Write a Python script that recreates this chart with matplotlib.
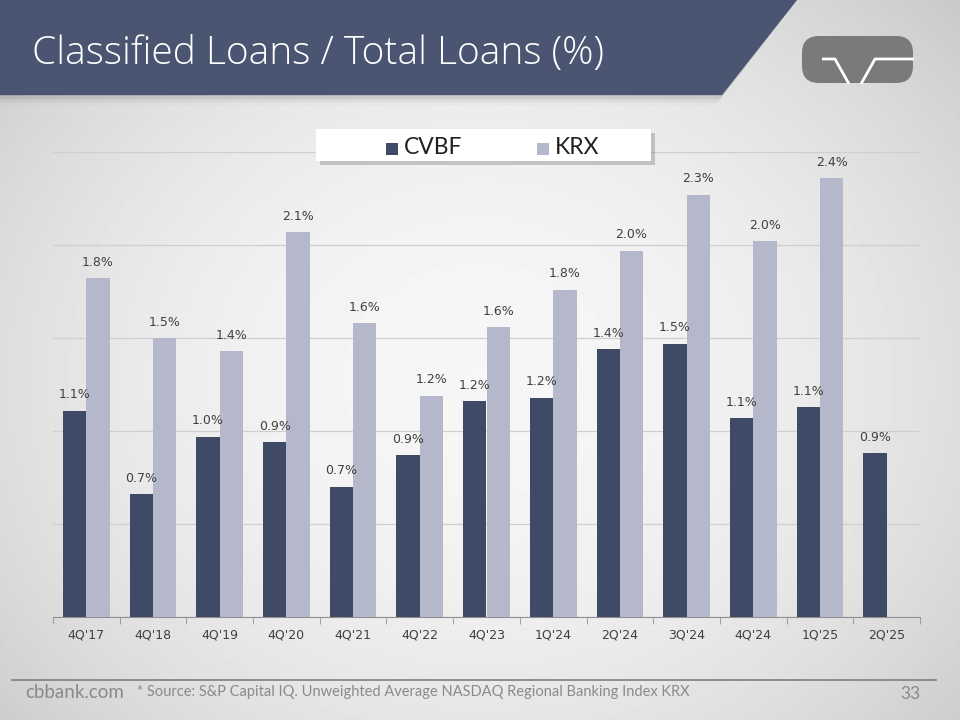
import numpy as np
import matplotlib.pyplot as plt
from matplotlib.patches import Polygon, Rectangle, FancyBboxPatch

# data
quarters = ["4Q'17", "4Q'18", "4Q'19", "4Q'20", "4Q'21", "4Q'22", "4Q'23",
            "1Q'24", "2Q'24", "3Q'24", "4Q'24", "1Q'25", "2Q'25"]
cvbf = [1.11, 0.66, 0.97, 0.94, 0.70, 0.87, 1.16, 1.18, 1.44, 1.47, 1.07, 1.13, 0.88]
krx = [1.82, 1.50, 1.43, 2.07, 1.58, 1.19, 1.56, 1.76, 1.97, 2.27, 2.02, 2.36, np.nan]

dark = '#3f4a66'
light = '#b5b8ca'
header = '#4a5571'
txt = '#404040'

W, H = 960, 720
fig = plt.figure(figsize=(9.6, 7.2), dpi=100)

# background gradient
bg = fig.add_axes([0, 0, 1, 1], zorder=0)
yy, xx = np.mgrid[0:H, 0:W]
r = np.sqrt(((xx - 480) / 560.0) ** 2 + ((yy - 380) / 480.0) ** 2)
shade = 0.965 - 0.13 * np.clip(r, 0, 1.2) ** 2
bg.imshow(shade, cmap='gray', vmin=0, vmax=1, extent=[0, W, H, 0], aspect='auto')
bg.set_xlim(0, W)
bg.set_ylim(H, 0)
bg.axis('off')

# chart
ax = fig.add_axes([53 / W, 103 / H, 867 / W, 465 / H], zorder=1)
ax.patch.set_alpha(0)
x = np.arange(len(quarters))
bw = 0.35
ax.bar(x - bw / 2, cvbf, bw, color=dark, zorder=3)
ax.bar(x + bw / 2, krx, bw, color=light, zorder=3)
for i in range(len(quarters)):
    ax.text(x[i] - bw / 2, cvbf[i] + 0.05, f'{cvbf[i]:.1f}%', ha='center', va='bottom',
            fontsize=9, color=txt, zorder=4)
    if not np.isnan(krx[i]):
        ax.text(x[i] + bw / 2, krx[i] + 0.05, f'{krx[i]:.1f}%', ha='center', va='bottom',
                fontsize=9, color=txt, zorder=4)

ax.set_xlim(-0.5, len(quarters) - 0.5)
ax.set_ylim(0, 2.5)
ax.set_yticks(np.arange(0, 2.51, 0.5))
ax.yaxis.grid(True, color='#cfcfcf', lw=0.9)
ax.set_axisbelow(True)
ax.tick_params(axis='y', left=False, labelleft=False)
ax.set_xticks(x)
ax.set_xticklabels(quarters, fontsize=9, color=txt)
ax.tick_params(axis='x', length=0, pad=8)
ax.set_xticks(np.arange(-0.5, len(quarters), 1), minor=True)
ax.tick_params(axis='x', which='minor', length=5, color='#909090')
for s in ['top', 'right', 'left']:
    ax.spines[s].set_visible(False)
ax.spines['bottom'].set_color('#909090')

# overlay: header, legend, footer
ov = fig.add_axes([0, 0, 1, 1], zorder=2)
ov.patch.set_alpha(0)
ov.set_xlim(0, W)
ov.set_ylim(H, 0)
ov.axis('off')

for k, a in enumerate([0.10, 0.07, 0.04, 0.02]):
    ov.add_patch(Polygon([(0, 0), (797, 0), (722 - 2 * k, 96 + 3 * k), (0, 96 + 3 * k)],
                         closed=True, color='black', alpha=a, lw=0))
ov.add_patch(Polygon([(0, 0), (797, 0), (722, 95), (0, 95)], closed=True, color=header, lw=0))
ov.text(32, 54, 'Classified Loans / Total Loans (%)', color='white', fontsize=28,
        family='Open Sans', weight='light', va='center', ha='left')

# logo
ov.add_patch(FancyBboxPatch((802, 36), 111, 47, boxstyle='round,pad=0,rounding_size=17',
                            color='#7a7a7a', lw=0))
ov.plot([822, 835, 849], [59, 59, 84], color='white', lw=2.0, solid_capstyle='butt')
ov.plot([861, 875, 914], [84, 59, 59], color='white', lw=2.0, solid_capstyle='butt')

# legend box
ov.add_patch(Rectangle((320, 133), 335, 32, color='black', alpha=0.18, lw=0))
ov.add_patch(Rectangle((316, 129), 335, 32, color='white', lw=0))
ov.add_patch(Rectangle((386, 143), 12, 12, color=dark, lw=0))
ov.text(404, 148, 'CVBF', fontsize=16.5, color='#202020', va='center', family='Lato')
ov.add_patch(Rectangle((537, 143), 12, 12, color=light, lw=0))
ov.text(555, 148, 'KRX', fontsize=16.5, color='#202020', va='center', family='Lato')

# footer
ov.plot([12, 936], [680, 680], color='#7a7f88', lw=1.2)
ov.text(25, 693, 'cbbank.com', fontsize=13.5, color='#8a8a8a', va='center', family='Lato')
ov.text(137, 692, '* Source: S&P Capital IQ. Unweighted Average NASDAQ Regional Banking Index KRX',
        fontsize=10.5, color='#8a8a8a', va='center', family='Lato')
ov.text(921, 694, '33', fontsize=12.5, color='#8a8a8a', va='center', ha='right', family='Lato')

fig.savefig('out.png', dpi=100)
